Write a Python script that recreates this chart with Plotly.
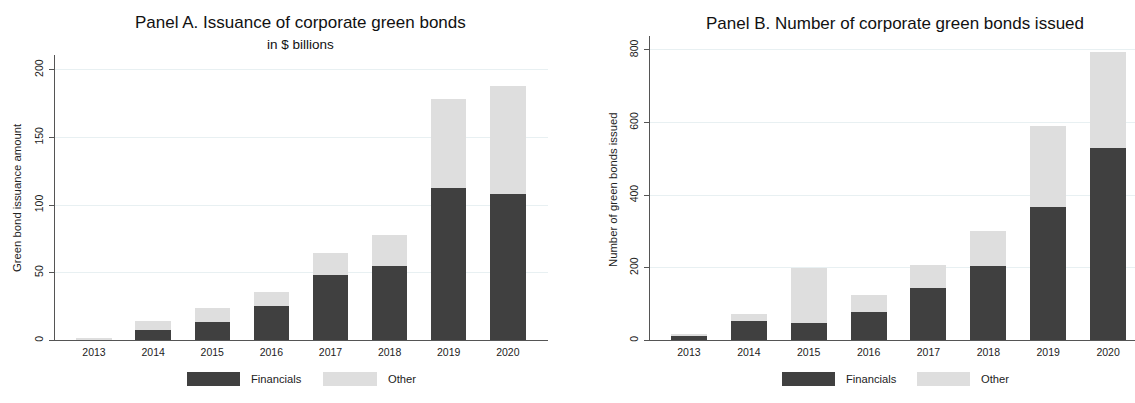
import plotly.graph_objects as go

years = ["2013", "2014", "2015", "2016", "2017", "2018", "2019", "2020"]
# Panel A: issuance amount ($ billions)
amount_fin = [0.4, 7.4, 13.5, 25.1, 48.0, 55.1, 112.4, 108.2]
amount_other = [1.3, 6.9, 10.4, 10.8, 16.9, 22.6, 65.7, 79.7]
# Panel B: number of bonds issued
count_fin = [13, 54, 48, 77, 144, 206, 368, 530]
count_other = [3, 19, 150, 48, 64, 96, 223, 265]

W, H = 1135, 403
DARK = "#404040"
LIGHT = "#dedede"
GRID = "#e8f0f2"
AXIS = "#555555"
FONT = "Liberation Sans, Arial, sans-serif"


def fx(x):
    return x / W


def fy(y):
    return 1 - y / H


fig = go.Figure()
fig.add_trace(go.Bar(x=years, y=amount_fin, name="Financials", marker=dict(color=DARK, line=dict(width=0)),
                     width=0.6, xaxis="x", yaxis="y", showlegend=False))
fig.add_trace(go.Bar(x=years, y=amount_other, name="Other", marker=dict(color=LIGHT, line=dict(width=0)),
                     width=0.6, xaxis="x", yaxis="y", showlegend=False))
fig.add_trace(go.Bar(x=years, y=count_fin, name="Financials", marker=dict(color=DARK, line=dict(width=0)),
                     width=0.6, xaxis="x2", yaxis="y2", showlegend=False))
fig.add_trace(go.Bar(x=years, y=count_other, name="Other", marker=dict(color=LIGHT, line=dict(width=0)),
                     width=0.6, xaxis="x2", yaxis="y2", showlegend=False))

xcommon = dict(type="category", showgrid=False, showline=True, linecolor=AXIS, linewidth=1.2,
               ticks="", tickfont=dict(size=10.5, color="#222"), zeroline=False, fixedrange=True,
               ticklabelstandoff=2)
ycommon = dict(showgrid=True, gridcolor=GRID, gridwidth=1, showline=True, linecolor=AXIS, linewidth=1.2,
               ticks="outside", ticklen=5, tickcolor=AXIS, tickangle=-90,
               tickfont=dict(size=10.5, color="#222"), zeroline=False, fixedrange=True,
               ticklabelstandoff=2)

fig.update_layout(
    width=W, height=H,
    margin=dict(l=0, r=0, t=0, b=0),
    paper_bgcolor="white", plot_bgcolor="white",
    barmode="stack", bargap=0.4,
    font=dict(family=FONT, color="#222"),
    xaxis=dict(xcommon, domain=[fx(55), fx(548)], range=[-0.66, 7.68], anchor="y"),
    yaxis=dict(ycommon, domain=[fy(340.3), fy(55)], range=[0, 210.9], tickvals=[0, 50, 100, 150, 200],
               anchor="x"),
    xaxis2=dict(xcommon, domain=[fx(650), 1.0], range=[-0.65, 7.45], anchor="y2"),
    yaxis2=dict(ycommon, domain=[fy(340.3), fy(36)], range=[0, 838.5], tickvals=[0, 200, 400, 600, 800],
                anchor="x2"),
)

ann = []
# Titles
ann.append(dict(text="Panel A. Issuance of corporate green bonds", x=fx(300), y=fy(23), xref="paper",
                yref="paper", showarrow=False, font=dict(size=17, color="#111"), xanchor="center",
                yanchor="middle"))
ann.append(dict(text="in $ billions", x=fx(300), y=fy(44.5), xref="paper", yref="paper", showarrow=False,
                font=dict(size=13.5, color="#111"), xanchor="center", yanchor="middle"))
ann.append(dict(text="Panel B. Number of corporate green bonds issued", x=fx(895), y=fy(23.5), xref="paper",
                yref="paper", showarrow=False, font=dict(size=17, color="#111"), xanchor="center",
                yanchor="middle"))
# Axis titles
ann.append(dict(text="Green bond issuance amount", x=fx(17), y=fy(198), xref="paper", yref="paper",
                showarrow=False, textangle=-90, font=dict(size=11.3, color="#222"), xanchor="center",
                yanchor="middle"))
ann.append(dict(text="Number of green bonds issued", x=fx(613), y=fy(190), xref="paper", yref="paper",
                showarrow=False, textangle=-90, font=dict(size=11.3, color="#222"), xanchor="center",
                yanchor="middle"))

shapes = []
# Manual legends (swatch rectangles + labels)
legends = [
    (187, 240, 249, 323, 377, 386),
    (782, 835, 844, 917, 970, 979),
]
for d0, d1, dt, l0, l1, lt in legends:
    shapes.append(dict(type="rect", xref="paper", yref="paper", x0=fx(d0), x1=fx(d1), y0=fy(386), y1=fy(372),
                       fillcolor=DARK, line=dict(width=0)))
    shapes.append(dict(type="rect", xref="paper", yref="paper", x0=fx(l0), x1=fx(l1), y0=fy(386), y1=fy(372),
                       fillcolor=LIGHT, line=dict(width=0)))
    ann.append(dict(text="Financials", x=fx(dt), y=fy(379), xref="paper", yref="paper", showarrow=False,
                    font=dict(size=11.2, color="#222"), xanchor="left", yanchor="middle"))
    ann.append(dict(text="Other", x=fx(lt), y=fy(379), xref="paper", yref="paper", showarrow=False,
                    font=dict(size=11.2, color="#222"), xanchor="left", yanchor="middle"))

fig.update_layout(annotations=ann, shapes=shapes)
fig.write_html("out.html")
